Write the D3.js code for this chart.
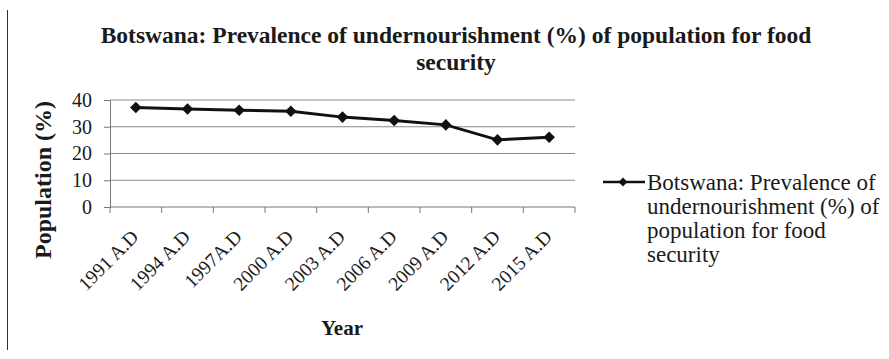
<!DOCTYPE html>
<html>
<head>
<meta charset="utf-8">
<script src="https://d3js.org/d3.v7.min.js"></script>
<style>
  body { margin: 0; background: #fff; }
  text { font-family: Tinos, "Liberation Serif", "Times New Roman", serif; fill: #1a1a1a; }
  .bold { font-family: "Liberation Serif", Tinos, serif; font-weight: bold; }
</style>
</head>
<body>
<div id="chart"></div>
<script>
// data
const years = ["1991 A.D", "1994 A.D", "1997A.D", "2000 A.D", "2003 A.D", "2006 A.D", "2009 A.D", "2012 A.D", "2015 A.D"];
const values = [37.2, 36.6, 36.2, 35.8, 33.6, 32.3, 30.7, 25.1, 26.1];
const yTicks = [0, 10, 20, 30, 40];
const titleLines = ["Botswana: Prevalence of undernourishment (%) of population for food", "security"];
const legendLines = ["Botswana: Prevalence of", "undernourishment (%) of", "population for food", "security"];

const W = 889, H = 359;
const margin = { top: 100, left: 110, right: 314, bottom: 152 };
const width = W - margin.left - margin.right,
      height = H - margin.top - margin.bottom;

const svg = d3.select("#chart").append("svg")
  .attr("width", W).attr("height", H);

// left border line of the figure
svg.append("line")
  .attr("x1", 7.5).attr("x2", 7.5).attr("y1", 10).attr("y2", 350)
  .attr("stroke", "#333").attr("stroke-width", 1);

// title
svg.selectAll(".title").data(titleLines).enter().append("text")
  .attr("class", "title bold")
  .attr("x", 456).attr("y", (d, i) => 43 + i * 27)
  .attr("text-anchor", "middle")
  .style("font-size", "23.5px")
  .text(d => d);

const g = svg.append("g").attr("transform", `translate(${margin.left},${margin.top})`);

const x = d3.scaleBand().domain(years).range([0, width]);
const y = d3.scaleLinear().domain([0, 40]).range([height, 0]);

// gridlines
g.selectAll(".grid").data(yTicks.slice(1)).enter().append("line")
  .attr("x1", 0).attr("x2", width)
  .attr("y1", d => y(d)).attr("y2", d => y(d))
  .attr("stroke", "#888").attr("stroke-width", 1);

// y axis
const yAxis = g.append("g")
  .call(d3.axisLeft(y).tickValues(yTicks).tickSize(6).tickPadding(12));
yAxis.attr("font-family", null);
yAxis.select(".domain").attr("stroke", "#777");
yAxis.selectAll(".tick line").attr("stroke", "#777");
yAxis.selectAll("text").style("font-size", "20px").attr("fill", "#1a1a1a");

// x axis with ticks between categories
const xAxis = g.append("g").attr("transform", `translate(0,${height})`);
xAxis.append("line").attr("x1", 0).attr("x2", width).attr("stroke", "#777");
const edges = years.map(d => x(d)).concat([width]);
xAxis.selectAll(".xt").data(edges).enter().append("line")
  .attr("x1", d => d).attr("x2", d => d).attr("y1", 0).attr("y2", 6)
  .attr("stroke", "#777");
xAxis.selectAll(".xl").data(years).enter().append("text")
  .attr("transform", d => `translate(${x(d) + x.bandwidth() / 2 + 4},${31}) rotate(-45)`)
  .attr("text-anchor", "end")
  .style("font-size", "19.5px")
  .text(d => d);

// line + diamond markers
const line = d3.line()
  .x((d, i) => x(years[i]) + x.bandwidth() / 2)
  .y(d => y(d));
g.append("path").datum(values)
  .attr("fill", "none").attr("stroke", "#111").attr("stroke-width", 3)
  .attr("d", line);
const diamond = d3.symbol().type(d3.symbolDiamond2).size(85);
g.selectAll(".pt").data(values).enter().append("path")
  .attr("d", diamond)
  .attr("transform", (d, i) => `translate(${x(years[i]) + x.bandwidth() / 2},${y(d)})`)
  .attr("fill", "#111");

// axis titles
svg.append("text")
  .attr("class", "bold")
  .attr("transform", "translate(51,180) rotate(-90)")
  .attr("text-anchor", "middle")
  .style("font-size", "24px")
  .text("Population (%)");
svg.append("text")
  .attr("class", "bold")
  .attr("x", 342).attr("y", 335)
  .attr("text-anchor", "middle")
  .style("font-size", "21px")
  .text("Year");

// legend
const lg = svg.append("g").attr("transform", "translate(603,182)");
lg.append("line").attr("x1", 0).attr("x2", 42).attr("y1", 0).attr("y2", 0)
  .attr("stroke", "#111").attr("stroke-width", 2.5);
lg.append("path").attr("d", d3.symbol().type(d3.symbolDiamond2).size(50))
  .attr("transform", "translate(20,0)").attr("fill", "#111");
lg.selectAll(".lt").data(legendLines).enter().append("text")
  .attr("x", 44).attr("y", (d, i) => 8 + i * 24)
  .style("font-size", "23px")
  .text(d => d);
</script>
</body>
</html>
